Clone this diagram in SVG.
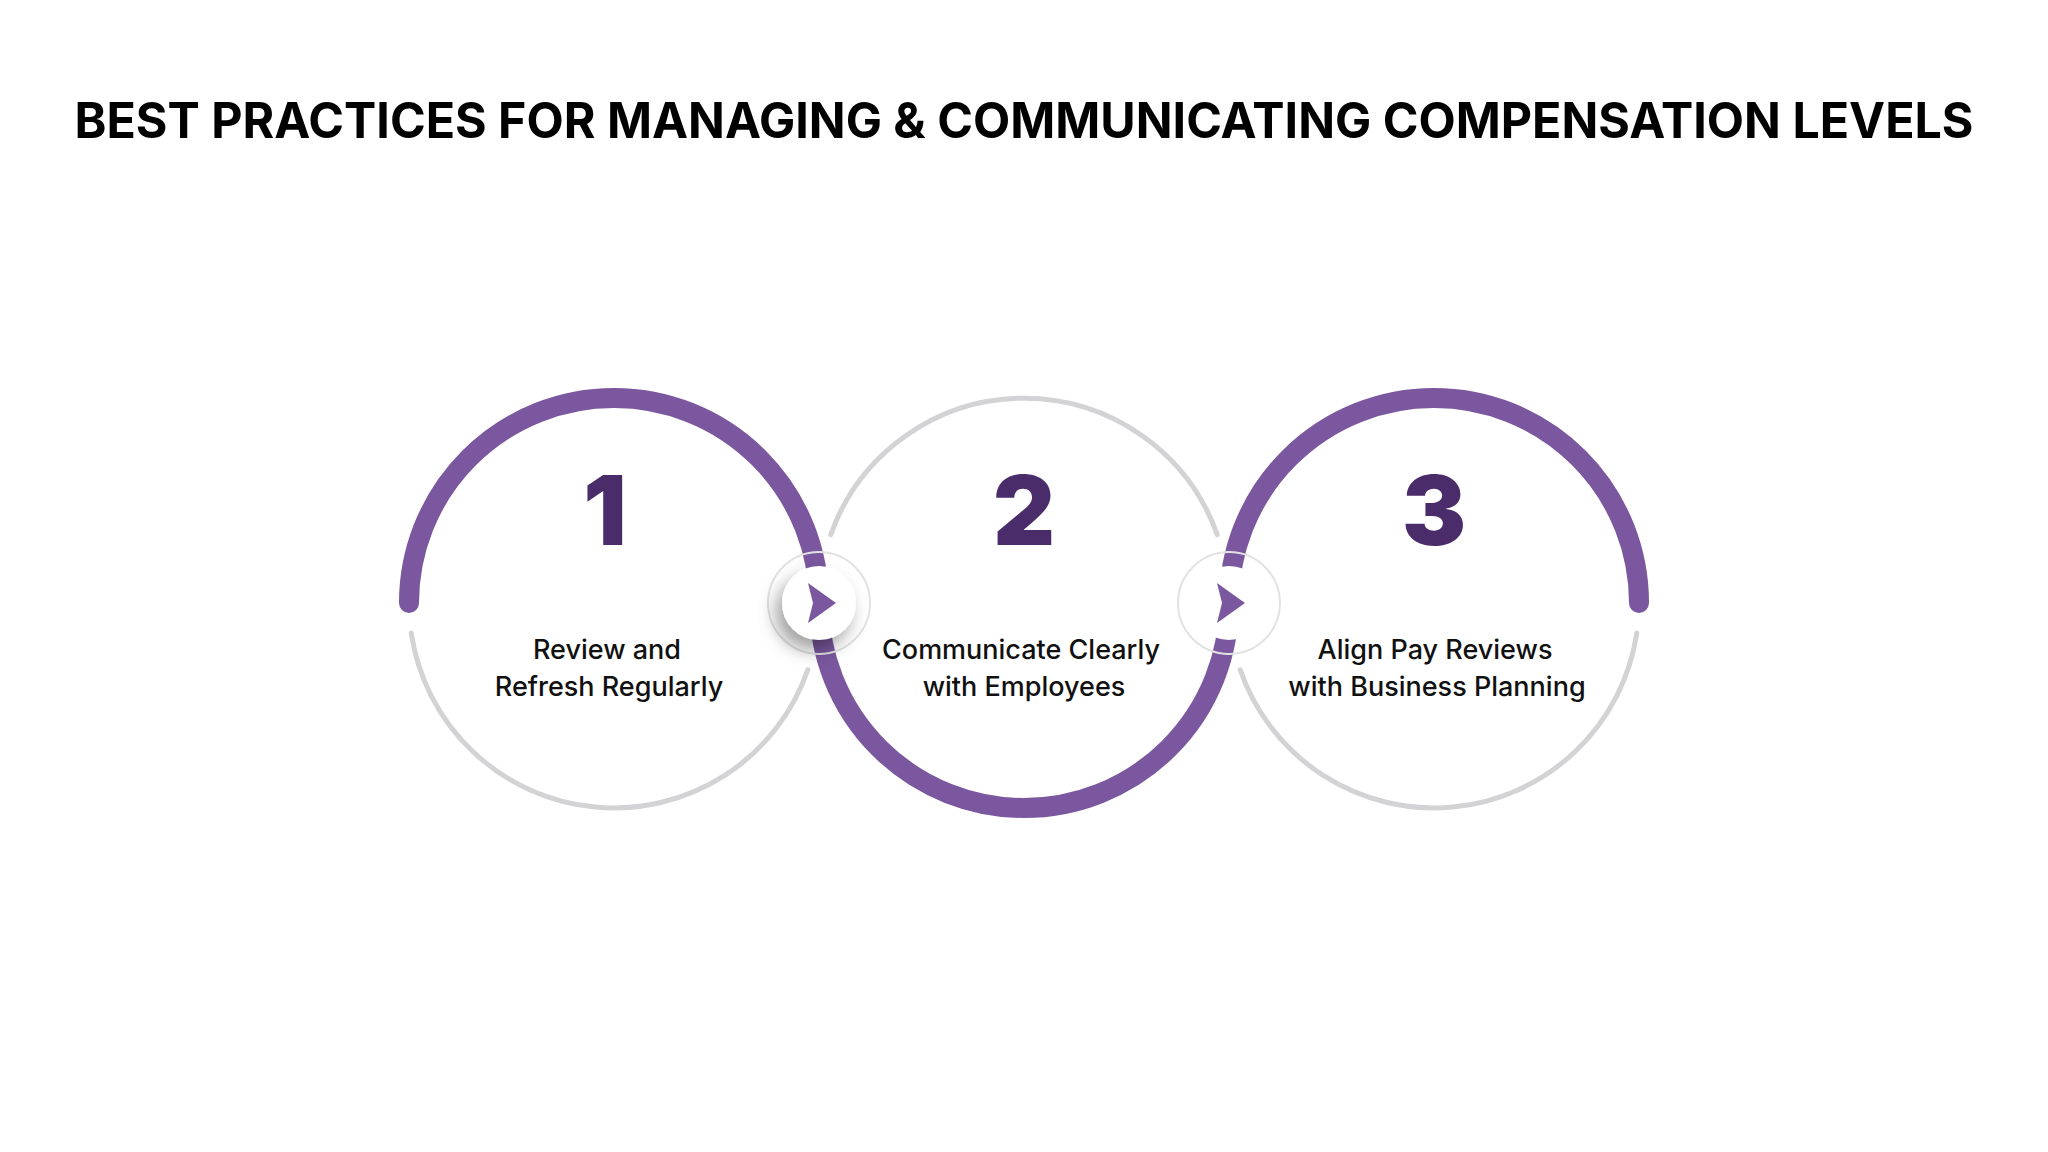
<svg xmlns="http://www.w3.org/2000/svg" width="2048" height="1152" viewBox="0 0 2048 1152">
  <defs>
    <filter id="shadow" x="-100%" y="-100%" width="300%" height="300%">
      <feDropShadow dx="-6" dy="10" stdDeviation="9" flood-color="#000" flood-opacity="0.38"/>
    </filter>
    <path id="arrow" d="M 17 0 L -11 -20 L -6 0 L -11 20 Z"/>
  </defs>
  <style>
    .purple { fill: none; stroke: #7A579E; stroke-width: 20; stroke-linecap: round; }
    .gray { fill: none; stroke: #D3D3D5; stroke-width: 5; stroke-linecap: round; }
    .num { font-family: Inter, "Open Sans", sans-serif; font-weight: 900; font-size: 96px; fill: #4B2C6B; text-anchor: middle; }
    .label { font-family: Inter, "Open Sans", sans-serif; font-weight: 500; font-size: 27px; fill: #111; text-anchor: middle; }
    .title { font-family: Inter, "Open Sans", sans-serif; font-weight: 700; font-size: 49px; fill: #000; text-anchor: middle; }
    .ring { fill: none; stroke: #E2E2E2; stroke-width: 2; }
    .knob { fill: #FFFFFF; }
    .arr { fill: #7A579E; }
  </style>
  <rect width="2048" height="1152" fill="#FFFFFF"/>
  <text class="title" x="1024" y="138" textLength="1899" lengthAdjust="spacingAndGlyphs">BEST PRACTICES FOR MANAGING &amp; COMMUNICATING COMPENSATION LEVELS</text>

  <g id="connectors">
    <path class="purple" d="M 409 603 A 205 205 0 0 1 819 603"/>
    <path class="purple" d="M 819 603 A 205 205 0 0 0 1229 603"/>
    <path class="purple" d="M 1229 603 A 205 205 0 0 1 1639 603"/>
    <path class="gray" d="M 807.8 669.7 A 205 205 0 0 1 411.2 632.9"/>
    <path class="gray" d="M 830.8 534.6 A 205 205 0 0 1 1217.2 534.6"/>
    <path class="gray" d="M 1636.8 632.9 A 205 205 0 0 1 1240.2 669.7"/>
  </g>

  <g id="node-1">
    <text class="num" x="605" y="545">1</text>
    <text class="label" x="607" y="659">Review and</text>
    <text class="label" x="609" y="696">Refresh Regularly</text>
  </g>
  <g id="node-2">
    <text class="num" x="1024" y="545">2</text>
    <text class="label" x="1021" y="659">Communicate Clearly</text>
    <text class="label" x="1024" y="696">with Employees</text>
  </g>
  <g id="node-3">
    <text class="num" x="1434" y="545">3</text>
    <text class="label" x="1435" y="659">Align Pay Reviews</text>
    <text class="label" x="1437" y="696">with Business Planning</text>
  </g>

  <g id="button-1">
    <circle class="ring" cx="819" cy="603" r="51"/>
    <circle class="knob" cx="819" cy="603" r="37" filter="url(#shadow)"/>
    <use href="#arrow" class="arr" x="819" y="603"/>
  </g>
  <g id="button-2">
    <circle class="ring" cx="1229" cy="603" r="51"/>
    <circle class="knob" cx="1229" cy="603" r="37"/>
    <use href="#arrow" class="arr" x="1228" y="603"/>
  </g>
</svg>
